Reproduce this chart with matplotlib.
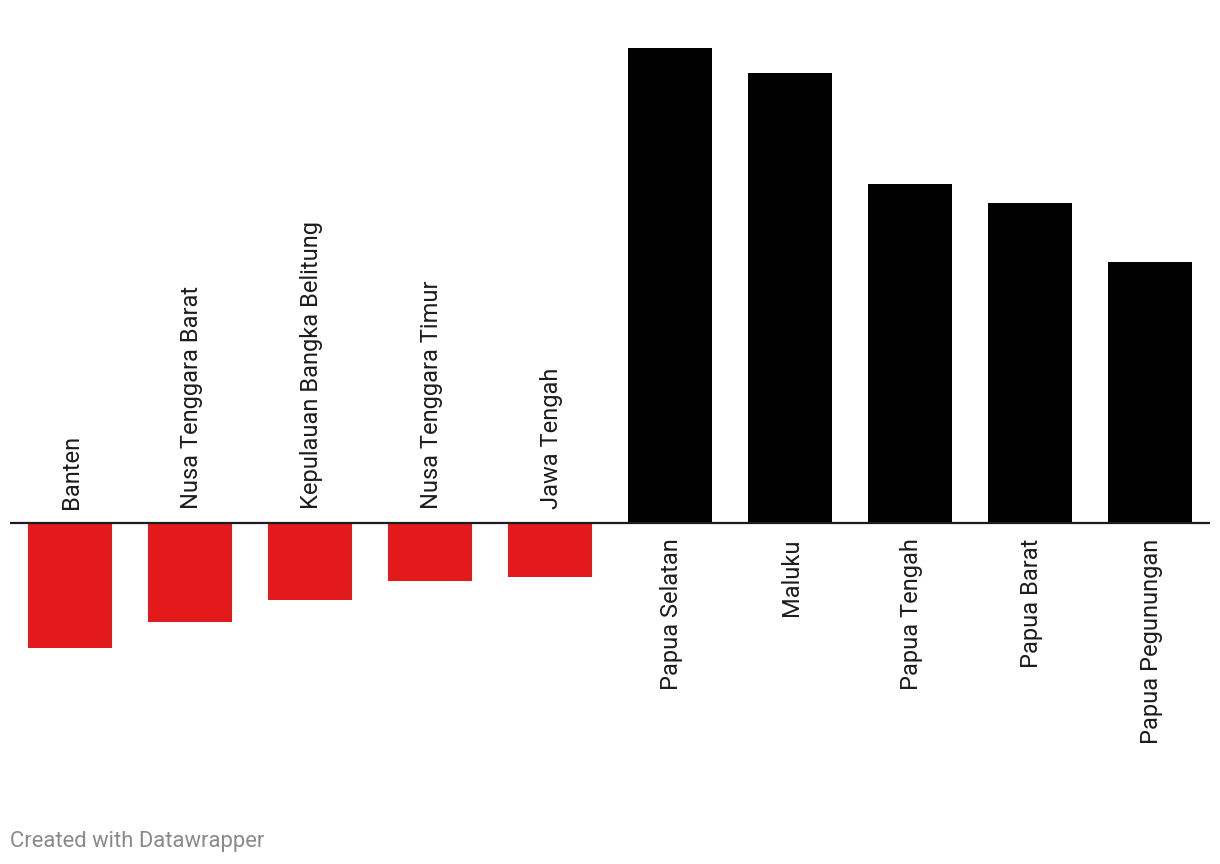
import matplotlib.pyplot as plt

# Data (arbitrary units, no value axis shown)
provinces = ["Banten", "Nusa Tenggara Barat", "Kepulauan Bangka Belitung",
             "Nusa Tenggara Timur", "Jawa Tengah", "Papua Selatan", "Maluku",
             "Papua Tengah", "Papua Barat", "Papua Pegunungan"]
values = [-12.5, -9.9, -7.7, -5.8, -5.4, 47.5, 45.0, 33.9, 32.0, 26.1]

RED = "#e31a1c"
BLACK = "#000000"

plt.rcParams["font.family"] = ["Roboto", "DejaVu Sans"]

fig = plt.figure(figsize=(12.2, 8.64), dpi=100)
W, H = 1220, 864
# axes placed in pixel terms: left 10, right 1210, top 48, bottom 800
ax = fig.add_axes([10 / W, (H - 800) / H, 1200 / W, (800 - 48) / H])

colors = [RED if v < 0 else BLACK for v in values]
x = list(range(len(values)))
ax.bar(x, values, width=0.7, color=colors, zorder=2)

ax.set_xlim(-0.5, len(values) - 0.5)
ax.set_ylim(-27.7, 47.5)
ax.axhline(0, color="#1d1d1d", linewidth=1.6, zorder=3)

for xi, name, v in zip(x, provinces, values):
    if v < 0:
        ax.annotate(name, xy=(xi, 0), xytext=(1, 10), textcoords="offset points",
                    rotation=90, ha="center", va="bottom", fontsize=17,
                    color="#1d1d1d")
    else:
        ax.annotate(name, xy=(xi, 0), xytext=(1, -11), textcoords="offset points",
                    rotation=90, ha="center", va="top", fontsize=17,
                    color="#1d1d1d")

ax.axis("off")

fig.text(10 / W, 1 - 841 / H, "Created with Datawrapper", fontsize=15.8,
         color="#8a8a8a", ha="left", va="center")

fig.savefig("out.png", dpi=100, facecolor="white")
